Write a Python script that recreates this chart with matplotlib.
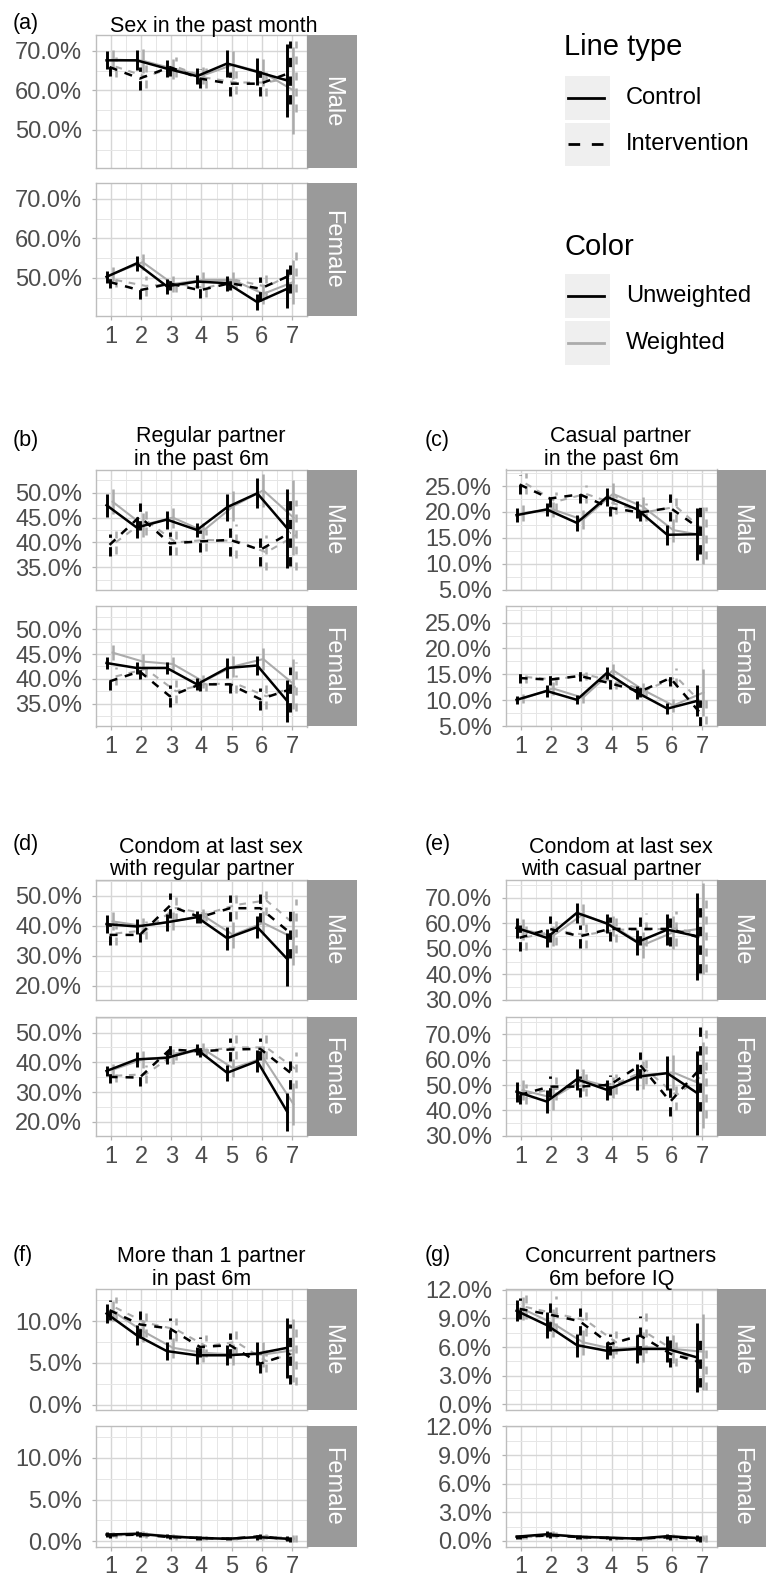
import matplotlib
matplotlib.use("Agg")
import matplotlib.pyplot as plt
from matplotlib.patches import Rectangle
from matplotlib.ticker import MultipleLocator, FuncFormatter

plt.rcParams['font.family'] = ['Liberation Sans', 'DejaVu Sans']

W, H = 766, 1581

WAVES = [1, 2, 3, 4, 5, 6, 7]
# row order in every block: control unweighted, intervention unweighted,
# control weighted, intervention weighted
SERIES = ['Control / Unweighted', 'Intervention / Unweighted',
          'Control / Weighted', 'Intervention / Weighted']

# (a) Sex in the past month  -- estimates and CI half-widths (%)
A_MALE = [[67.6, 67.6, 65.5, 63.6, 66.8, 64.7, 62.5],
          [65.9, 63.0, 65.9, 63.0, 61.7, 61.7, 64.5],
          [67.8, 67.5, 65.5, 63.8, 66.5, 64.5, 60.0],
          [66.0, 63.5, 66.0, 63.2, 62.0, 62.0, 63.5]]
A_MALE_CI = [[2.3, 2.5, 2.2, 2.0, 3.4, 3.4, 9.3],
             [2.3, 3.0, 2.3, 2.3, 3.0, 3.2, 8.0],
             [2.5, 3.0, 2.5, 2.2, 3.5, 3.5, 11.0],
             [2.5, 3.0, 2.5, 2.5, 3.0, 3.5, 9.0]]
A_FEMALE = [[50.3, 53.7, 47.9, 49.1, 48.7, 43.9, 47.3],
            [49.0, 46.9, 48.6, 46.9, 48.7, 47.3, 50.7],
            [51.0, 54.0, 48.5, 49.5, 49.5, 46.0, 49.0],
            [49.5, 48.0, 48.5, 47.5, 49.5, 47.8, 51.5]]
A_FEMALE_CI = [[1.5, 1.9, 1.9, 1.7, 1.9, 2.1, 5.0],
               [1.5, 2.3, 1.7, 2.0, 1.7, 3.0, 4.5],
               [1.8, 2.0, 2.0, 2.0, 2.0, 2.5, 5.5],
               [1.8, 2.5, 2.0, 2.3, 2.0, 3.0, 5.0]]

# (b) Regular partner in the past 6m
B_MALE = [[47.5, 43.0, 44.6, 42.5, 47.1, 49.9, 42.8],
          [39.5, 45.2, 39.8, 40.2, 40.5, 38.5, 42.0],
          [48.2, 43.5, 45.0, 42.3, 47.3, 50.5, 45.0],
          [40.0, 44.5, 40.0, 40.5, 40.3, 38.0, 41.5]]
B_MALE_CI = [[2.3, 2.2, 1.8, 1.5, 2.7, 3.0, 8.0],
             [2.2, 2.8, 2.3, 2.2, 3.2, 3.2, 6.7],
             [2.5, 2.5, 2.0, 1.7, 3.0, 3.3, 7.5],
             [2.3, 3.0, 2.5, 2.3, 3.5, 3.5, 7.0]]
B_FEMALE = [[43.2, 42.2, 42.2, 38.9, 42.2, 42.7, 35.5],
            [39.5, 41.5, 36.5, 38.9, 38.9, 35.9, 37.9],
            [45.3, 43.5, 43.0, 39.5, 42.5, 44.0, 39.0],
            [40.5, 42.0, 37.5, 39.0, 39.0, 36.5, 38.5]]
B_FEMALE_CI = [[1.3, 1.3, 1.3, 1.2, 2.0, 2.0, 4.2],
               [1.7, 1.5, 2.2, 1.3, 1.7, 2.2, 4.5],
               [1.5, 1.5, 1.5, 1.3, 2.2, 2.2, 5.0],
               [1.8, 1.7, 2.3, 1.4, 1.8, 2.5, 5.0]]

# (c) Casual partner in the past 6m
C_MALE = [[19.4, 20.5, 17.9, 22.9, 20.5, 15.6, 15.7],
          [25.3, 22.6, 23.4, 20.8, 19.9, 20.8, 16.7],
          [19.8, 20.5, 18.5, 23.5, 21.0, 16.5, 15.5],
          [25.5, 22.0, 23.5, 21.5, 20.0, 21.0, 16.0]]
C_MALE_CI = [[1.4, 1.3, 1.6, 1.8, 1.6, 1.9, 5.0],
             [1.8, 1.6, 1.6, 1.6, 1.6, 2.6, 4.8],
             [1.5, 1.5, 1.8, 2.0, 1.8, 2.2, 5.5],
             [2.0, 1.8, 1.8, 1.8, 1.8, 3.0, 5.0]]
C_FEMALE = [[10.1, 11.8, 10.1, 15.3, 11.5, 8.4, 9.9],
            [14.3, 14.0, 14.7, 13.3, 11.7, 14.3, 7.5],
            [10.3, 12.3, 10.5, 15.8, 12.0, 9.0, 11.5],
            [14.5, 14.0, 15.0, 13.5, 12.0, 14.5, 8.5]]
C_FEMALE_CI = [[0.8, 1.2, 0.9, 1.2, 1.2, 1.1, 3.0],
               [1.0, 1.0, 1.0, 1.2, 1.0, 1.6, 2.5],
               [0.9, 1.2, 1.0, 1.3, 1.3, 1.2, 4.5],
               [1.1, 1.1, 1.1, 1.3, 1.1, 1.8, 3.0]]

# (d) Condom at last sex with regular partner
D_MALE = [[40.6, 39.8, 41.2, 42.9, 35.9, 39.6, 28.9],
          [37.0, 37.0, 46.7, 42.9, 45.9, 45.9, 37.6],
          [41.5, 40.0, 41.5, 43.5, 37.0, 41.0, 36.0],
          [37.5, 38.5, 46.0, 44.0, 47.0, 48.5, 40.0]]
D_MALE_CI = [[2.9, 2.5, 2.8, 2.0, 3.9, 3.6, 8.9],
             [3.5, 2.5, 4.2, 2.0, 4.4, 4.7, 8.3],
             [3.0, 2.8, 3.0, 2.2, 4.3, 4.0, 9.0],
             [3.7, 3.0, 4.5, 2.3, 4.8, 5.0, 9.0]]
D_FEMALE = [[37.1, 41.0, 41.5, 44.3, 36.5, 40.4, 23.3],
            [35.1, 34.9, 44.3, 43.7, 44.3, 44.5, 36.5],
            [37.5, 41.0, 42.0, 44.5, 38.0, 41.5, 26.0],
            [35.5, 36.0, 43.0, 44.0, 45.0, 45.0, 37.5]]
D_FEMALE_CI = [[1.8, 2.5, 2.2, 1.8, 2.7, 3.8, 6.3],
               [2.0, 2.8, 2.0, 1.8, 3.8, 3.8, 5.5],
               [2.0, 2.8, 2.5, 2.0, 3.0, 4.0, 7.0],
               [2.2, 3.0, 2.2, 2.0, 4.0, 4.0, 6.0]]

# (e) Condom at last sex with casual partner
E_MALE = [[58.2, 54.3, 64.1, 59.9, 52.6, 57.5, 54.9],
          [54.3, 57.8, 54.9, 57.8, 57.8, 57.8, 54.3],
          [57.5, 55.0, 63.5, 59.0, 51.5, 56.5, 58.0],
          [54.5, 57.0, 55.5, 57.5, 57.5, 58.0, 55.0]]
E_MALE_CI = [[3.9, 3.5, 3.9, 3.6, 4.9, 6.2, 17.0],
             [5.0, 5.2, 4.6, 4.6, 6.2, 6.9, 13.8],
             [4.0, 3.8, 4.2, 3.8, 5.0, 6.5, 18.0],
             [5.0, 5.5, 5.0, 5.0, 6.5, 7.0, 14.0]]
E_FEMALE = [[47.4, 43.5, 52.3, 48.1, 53.3, 54.7, 46.8],
            [46.1, 49.4, 49.4, 50.1, 57.9, 43.5, 56.6],
            [48.0, 45.0, 52.0, 49.0, 54.0, 55.0, 50.0],
            [46.5, 48.5, 50.0, 50.5, 56.0, 46.0, 55.0]]
E_FEMALE_CI = [[3.9, 4.6, 4.1, 3.9, 5.2, 6.6, 16.7],
               [3.5, 4.3, 4.3, 3.9, 5.2, 5.6, 17.0],
               [4.0, 5.0, 4.3, 4.0, 5.5, 7.0, 17.0],
               [4.0, 4.5, 4.5, 4.0, 5.5, 6.0, 18.0]]

# (f) More than 1 partner in past 6m
F_MALE = [[10.9, 8.3, 6.4, 5.9, 5.9, 6.1, 6.8],
          [11.3, 9.6, 9.1, 6.9, 7.1, 4.9, 6.1],
          [11.2, 8.8, 6.8, 6.2, 6.0, 6.0, 6.5],
          [11.6, 9.8, 9.0, 7.0, 7.5, 5.2, 6.2]]
F_MALE_CI = [[1.1, 1.2, 1.1, 1.0, 1.2, 1.4, 3.6],
             [1.2, 1.6, 1.3, 1.2, 1.5, 1.1, 3.6],
             [1.2, 1.3, 1.2, 1.1, 1.3, 1.5, 3.8],
             [1.3, 1.7, 1.4, 1.3, 1.6, 1.3, 3.8]]
F_FEMALE = [[0.8, 0.9, 0.6, 0.4, 0.3, 0.5, 0.3],
            [0.7, 0.8, 0.5, 0.4, 0.3, 0.6, 0.2],
            [0.8, 0.9, 0.6, 0.4, 0.3, 0.5, 0.3],
            [0.7, 0.8, 0.5, 0.4, 0.3, 0.6, 0.3]]
F_FEMALE_CI = [[0.3, 0.3, 0.25, 0.2, 0.2, 0.3, 0.3],
               [0.3, 0.3, 0.25, 0.2, 0.2, 0.3, 0.3],
               [0.3, 0.35, 0.3, 0.2, 0.2, 0.3, 0.4],
               [0.3, 0.35, 0.3, 0.2, 0.2, 0.3, 0.4]]

# (g) Concurrent partners 6m before IQ
G_MALE = [[9.8, 8.3, 6.2, 5.6, 5.8, 5.8, 4.9],
          [10.0, 9.4, 8.7, 6.3, 7.2, 5.3, 4.4],
          [10.0, 8.5, 6.5, 5.8, 6.0, 5.8, 5.5],
          [10.2, 9.5, 8.8, 6.5, 7.5, 5.5, 4.0]]
G_MALE_CI = [[1.1, 1.4, 1.2, 0.9, 1.5, 1.4, 3.6],
             [1.1, 1.7, 1.4, 1.1, 2.0, 1.4, 2.6],
             [1.2, 1.5, 1.3, 1.0, 1.6, 1.5, 4.0],
             [1.3, 1.8, 1.6, 1.2, 2.1, 1.5, 2.5]]
G_FEMALE = [[0.45, 0.7, 0.45, 0.35, 0.25, 0.5, 0.3],
            [0.4, 0.6, 0.4, 0.3, 0.25, 0.4, 0.2],
            [0.45, 0.7, 0.45, 0.35, 0.25, 0.5, 0.3],
            [0.4, 0.6, 0.4, 0.3, 0.25, 0.4, 0.25]]
G_FEMALE_CI = [[0.2, 0.3, 0.2, 0.15, 0.15, 0.25, 0.3],
               [0.2, 0.3, 0.2, 0.15, 0.15, 0.25, 0.3],
               [0.2, 0.3, 0.2, 0.15, 0.15, 0.25, 0.35],
               [0.2, 0.3, 0.2, 0.15, 0.15, 0.25, 0.35]]

# layout, in pixels of the 766x1581 canvas
COLS = [(96, 307, 357), (506, 717, 766)]          # plot left, plot right / strip left, strip right
ROWS = [(35, 168, 183, 316), (469.5, 590, 606, 726.5),
        (880, 1000, 1016.7, 1136), (1289.3, 1410, 1426, 1546.7)]

PANELS = [
    dict(tag='(a)', title=['Sex in the past month'], row=0, col=0,
         data=(A_MALE, A_MALE_CI, A_FEMALE, A_FEMALE_CI), ylim=(40.4, 74.0), step=10),
    dict(tag='(b)', title=['Regular partner', 'in the past 6m'], row=1, col=0,
         data=(B_MALE, B_MALE_CI, B_FEMALE, B_FEMALE_CI), ylim=(30.4, 54.7), step=5),
    dict(tag='(c)', title=['Casual partner', 'in the past 6m'], row=1, col=1,
         data=(C_MALE, C_MALE_CI, C_FEMALE, C_FEMALE_CI), ylim=(4.95, 28.2), step=5),
    dict(tag='(d)', title=['Condom at last sex', 'with regular partner'], row=2, col=0,
         data=(D_MALE, D_MALE_CI, D_FEMALE, D_FEMALE_CI), ylim=(15.3, 55.3), step=10),
    dict(tag='(e)', title=['Condom at last sex', 'with casual partner'], row=2, col=1,
         data=(E_MALE, E_MALE_CI, E_FEMALE, E_FEMALE_CI), ylim=(29.9, 77.0), step=10),
    dict(tag='(f)', title=['More than 1 partner', 'in past 6m'], row=3, col=0,
         data=(F_MALE, F_MALE_CI, F_FEMALE, F_FEMALE_CI), ylim=(-0.65, 13.8), step=5),
    dict(tag='(g)', title=['Concurrent partners', '6m before IQ'], row=3, col=1,
         data=(G_MALE, G_MALE_CI, G_FEMALE, G_FEMALE_CI), ylim=(-0.6, 12.05), step=3),
]
TAG_BASE = [29, 446, 850, 1261]

OFFSETS = [-0.15, -0.05, 0.05, 0.15]
DASH = (0, (3.2, 3.2))
GRAY = '#ababab'
STYLE = [('black', '-', 1.8), ('black', DASH, 1.8), (GRAY, '-', 1.5), (GRAY, DASH, 1.5)]
TICK_COL = '#4d4d4d'
FS_TICK = 17
FS_TITLE = 15.5


def rect(x0, y0, x1, y1):
    return [x0 / W, 1 - y1 / H, (x1 - x0) / W, (y1 - y0) / H]


pct = FuncFormatter(lambda v, p: f'{v:.1f}%')

fig = plt.figure(figsize=(W / 100, H / 100), dpi=100)


def draw_facet(box, est, ci, ylim, step, sex, bottom):
    x0, x1, x2 = box[0]
    y0, y1 = box[1]
    ax = fig.add_axes(rect(x0, y0, x1, y1))
    ax.set_facecolor('white')
    ax.set_xlim(0.5, 7.5)
    ax.set_ylim(*ylim)
    ax.yaxis.set_major_locator(MultipleLocator(step))
    ax.yaxis.set_minor_locator(MultipleLocator(step / 2))
    ax.yaxis.set_major_formatter(pct)
    ax.set_xticks(WAVES)
    ax.xaxis.set_minor_locator(MultipleLocator(0.5))
    ax.grid(which='major', color='#d6d6d6', lw=1.0)
    ax.grid(which='minor', color='#e6e6e6', lw=0.7)
    ax.set_axisbelow(True)
    for s in ax.spines.values():
        s.set_color('#bdbdbd')
        s.set_linewidth(1.0)
    ax.tick_params(which='minor', length=0)
    ax.tick_params(axis='y', which='major', length=3, width=0.9, color='#b3b3b3',
                   labelsize=FS_TICK, labelcolor=TICK_COL, pad=7)
    if bottom:
        ax.tick_params(axis='x', which='major', length=3, width=0.9, color='#b3b3b3',
                       labelsize=FS_TICK, labelcolor=TICK_COL, pad=4)
    else:
        ax.tick_params(axis='x', which='major', length=0, labelbottom=False)

    for i in (2, 3, 0, 1):
        col, ls, lw = STYLE[i]
        xs = [w + OFFSETS[i] for w in WAVES]
        lo = [e - d for e, d in zip(est[i], ci[i])]
        hi = [e + d for e, d in zip(est[i], ci[i])]
        ax.plot(xs, est[i], color=col, ls=ls, lw=lw, zorder=3 if i < 2 else 2)
        ax.vlines(xs, lo, hi, colors=col, linestyles=ls, lw=lw + 0.3,
                  zorder=3 if i < 2 else 2)

    st = fig.add_axes(rect(x1, y0, x2, y1))
    st.set_facecolor('#9a9a9a')
    st.set_xticks([])
    st.set_yticks([])
    for s in st.spines.values():
        s.set_visible(False)
    st.text(0.5, 0.5, sex, rotation=-90, color='white', fontsize=FS_TICK,
            ha='center', va='center', transform=st.transAxes)


for p in PANELS:
    male, male_ci, female, female_ci = p['data']
    cols = COLS[p['col']]
    r = ROWS[p['row']]
    draw_facet((cols, (r[0], r[1])), male, male_ci, p['ylim'], p['step'], 'Male', False)
    draw_facet((cols, (r[2], r[3])), female, female_ci, p['ylim'], p['step'], 'Female', True)

# overlay for titles, tags and legend (pixel coordinates)
ov = fig.add_axes([0, 0, 1, 1])
ov.set_xlim(0, W)
ov.set_ylim(H, 0)
ov.axis('off')

for p in PANELS:
    left = COLS[p['col']][0]
    top = ROWS[p['row']][0]
    shift = left - 96
    ov.text(13 + shift + (2 if p['col'] else 0), TAG_BASE[p['row']], p['tag'],
            fontsize=FS_TITLE, va='baseline', ha='left')
    if len(p['title']) == 1:
        ov.text(214 + shift, top - 3, p['title'][0], fontsize=FS_TITLE,
                ha='center', va='baseline')
    else:
        ov.text(211 + shift, top - 27.2, p['title'][0], fontsize=FS_TITLE,
                ha='center', va='baseline')
        ov.text(201.5 + shift, top - 4.5, p['title'][1], fontsize=FS_TITLE,
                ha='center', va='baseline')

# legend
ov.text(564, 55, 'Line type', fontsize=21, ha='left', va='baseline')
ov.text(564, 255, 'Color', fontsize=21, ha='left', va='baseline')
LEGEND = [(76, 120, 'Control', 'black', '-'),
          (122.7, 166, 'Intervention', 'black', (0, (4.2, 4.2))),
          (274, 318.3, 'Unweighted', 'black', '-'),
          (320.7, 365, 'Weighted', GRAY, '-')]
for ya, yb, lab, col, ls in LEGEND:
    ov.add_patch(Rectangle((565, ya), 45, yb - ya, facecolor='#efefef', edgecolor='none'))
    yc = (ya + yb) / 2
    ov.plot([568.3, 604], [yc, yc], color=col, ls=ls, lw=2.0)
    ov.text(626, yc, lab, fontsize=17, ha='left', va='center')

fig.savefig('out.png', dpi=100)
